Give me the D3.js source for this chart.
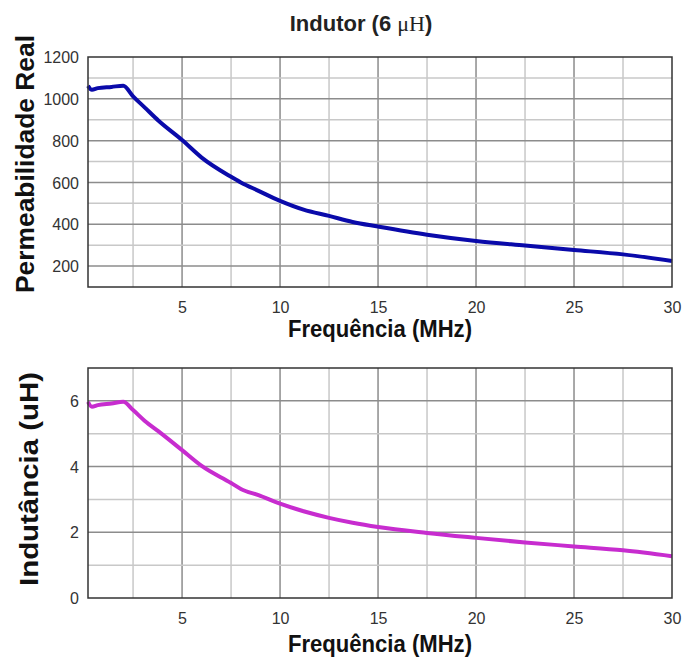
<!DOCTYPE html>
<html><head><meta charset="utf-8">
<script src="https://cdn.jsdelivr.net/npm/d3@7"></script>
<style>
html,body{margin:0;padding:0;background:#fff;}
svg{display:block;}
</style></head>
<body>
<svg id="chart" width="684" height="662"></svg>
<script>
const chartTitleMain = "Indutor (6 ";
const chartTitleUnit = "μH";
const chartTitleEnd = ")";
const xTitle = "Frequência (MHz)";
const yTitleTop = "Permeabilidade Real";
const yTitleBottom = "Indutância (uH)";
const freq = [0.2, 0.4, 0.7, 1.4, 2.0, 2.5, 3.1, 3.8, 5, 6, 7.5, 8, 8.9, 10, 11.2, 12.5, 13.7, 15, 17.5, 20, 22.5, 25, 27.5, 30];
const permeability = [1062, 1043, 1051, 1057, 1063, 1012, 958, 895, 803, 719, 627, 600, 560, 512, 470, 440, 411, 389, 350, 320, 298, 277, 256, 224];
const inductance = [5.97, 5.82, 5.87, 5.92, 5.97, 5.72, 5.39, 5.07, 4.5, 4.02, 3.5, 3.32, 3.13, 2.87, 2.64, 2.44, 2.29, 2.16, 1.98, 1.83, 1.69, 1.57, 1.45, 1.27];
const xTicks = [5, 10, 15, 20, 25, 30];
const xGrid = [2.5, 5, 7.5, 10, 12.5, 15, 17.5, 20, 22.5, 25, 27.5];
const yTicksTop = [200, 400, 600, 800, 1000, 1200];
const yGridTop = [200, 300, 400, 500, 600, 700, 800, 900, 1000, 1100];
const yTicksBottom = [0, 2, 4, 6];
const yGridBottom = [1, 2, 3, 4, 5, 6];

const svg = d3.select("#chart");
const left = 88, right = 672;
const x = d3.scaleLinear().domain([0.2, 30]).range([left, right]);

function panel(cfg) {
  const y = d3.scaleLinear().domain(cfg.domain).range([cfg.bottom, cfg.top]);
  const g = svg.append("g");
  g.selectAll("line.vg").data(xGrid).join("line")
    .attr("x1", d => x(d)).attr("x2", d => x(d))
    .attr("y1", cfg.top).attr("y2", cfg.bottom)
    .attr("stroke", d => d % 5 === 0 ? "#8c8c8c" : "#c8c8c8").attr("stroke-width", 1.5);
  g.selectAll("line.hg").data(cfg.grid).join("line")
    .attr("x1", left).attr("x2", right)
    .attr("y1", d => y(d)).attr("y2", d => y(d))
    .attr("stroke", d => cfg.major(d) ? "#8c8c8c" : "#c8c8c8").attr("stroke-width", 1.5);
  const line = d3.line().x((d, i) => x(freq[i])).y(d => y(d)).curve(d3.curveMonotoneX);
  g.append("path").datum(cfg.values).attr("d", line)
    .attr("fill", "none").attr("stroke", cfg.color).attr("stroke-width", 4)
    .attr("stroke-linejoin", "round");
  g.append("rect").attr("x", left).attr("y", cfg.top)
    .attr("width", right - left).attr("height", cfg.bottom - cfg.top)
    .attr("fill", "none").attr("stroke", "#333").attr("stroke-width", 1.5);
  const xa = g.append("g").attr("transform", `translate(0,${cfg.bottom})`)
    .call(d3.axisBottom(x).tickValues(xTicks).tickFormat(d3.format("d")).tickSize(0).tickPadding(0));
  xa.select(".domain").remove();
  xa.selectAll("text").attr("dy", null).attr("y", cfg.xLabelDy)
    .attr("font-family", "'Liberation Sans', Arial, sans-serif").attr("font-size", 16).attr("fill", "#333");
  const ya = g.append("g").attr("transform", `translate(79,0)`)
    .call(d3.axisLeft(y).tickValues(cfg.ticks).tickFormat(d3.format("d")).tickSize(0).tickPadding(0));
  ya.select(".domain").remove();
  ya.selectAll("text").attr("x", 0).attr("dy", "0.35em")
    .attr("font-family", "'Liberation Sans', Arial, sans-serif").attr("font-size", 16).attr("fill", "#333");
  g.append("text").attr("x", 380).attr("y", cfg.xTitleY).attr("text-anchor", "middle")
    .attr("font-family", "'Liberation Sans', Arial, sans-serif").attr("font-weight", "bold")
    .attr("font-size", 23).attr("textLength", 184).attr("lengthAdjust", "spacingAndGlyphs")
    .attr("fill", "#111").text(xTitle);
  g.append("text").attr("transform", `translate(${cfg.yTitleX},${cfg.yTitleCY}) rotate(-90)`)
    .attr("text-anchor", "middle")
    .attr("font-family", "'Liberation Sans', Arial, sans-serif").attr("font-weight", "bold")
    .attr("font-size", cfg.yTitleSize).attr("textLength", cfg.yTitleLen).attr("lengthAdjust", "spacingAndGlyphs")
    .attr("fill", "#111").text(cfg.yTitle);
}

panel({top: 57, bottom: 287, domain: [100, 1200], ticks: yTicksTop, grid: yGridTop,
  major: d => d % 200 === 0, values: permeability, color: "#0a0aaa",
  xLabelDy: 26, xTitleY: 337, yTitle: yTitleTop, yTitleX: 34, yTitleCY: 164, yTitleSize: 26, yTitleLen: 258});
panel({top: 368, bottom: 598, domain: [0, 7], ticks: yTicksBottom, grid: yGridBottom,
  major: d => d % 2 === 0, values: inductance, color: "#c72ccf",
  xLabelDy: 26, xTitleY: 652, yTitle: yTitleBottom, yTitleX: 38, yTitleCY: 479, yTitleSize: 26, yTitleLen: 214});

const t = svg.append("text").attr("x", 361).attr("y", 31).attr("text-anchor", "middle")
  .attr("font-family", "'Liberation Sans Narrow', 'Liberation Sans', Arial, sans-serif")
  .attr("font-weight", "bold").attr("font-size", 22).attr("fill", "#222");
t.append("tspan").text(chartTitleMain);
t.append("tspan").attr("font-family", "'Liberation Serif', 'Times New Roman', serif").attr("font-weight", "normal").text(chartTitleUnit);
t.append("tspan").text(chartTitleEnd);
</script>
</body></html>
